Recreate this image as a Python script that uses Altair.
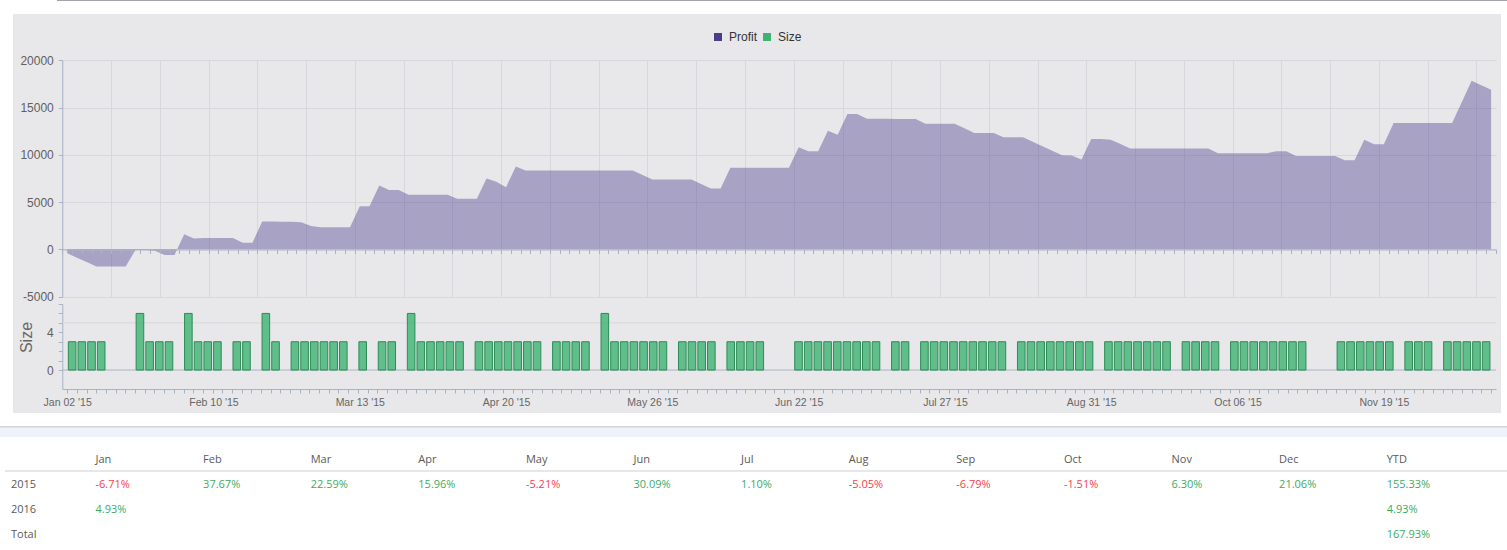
import json
import altair as alt
import pandas as pd

# ---------------- data ----------------
DATE_LABELS = ["Jan 02 '15", "Feb 10 '15", "Mar 13 '15", "Apr 20 '15", "May 26 '15",
               "Jun 22 '15", "Jul 27 '15", "Aug 31 '15", "Oct 06 '15", "Nov 19 '15"]
LABEL_EVERY = 15

SIZE = [
    3, 3, 3, 3, 0, 0, 0, 6, 3, 3,
    3, 0, 6, 3, 3, 3, 0, 3, 3, 0,
    6, 3, 0, 3, 3, 3, 3, 3, 3, 0,
    3, 0, 3, 3, 0, 6, 3, 3, 3, 3,
    3, 0, 3, 3, 3, 3, 3, 3, 3, 0,
    3, 3, 3, 3, 0, 6, 3, 3, 3, 3,
    3, 3, 0, 3, 3, 3, 3, 0, 3, 3,
    3, 3, 0, 0, 0, 3, 3, 3, 3, 3,
    3, 3, 3, 3, 0, 3, 3, 0, 3, 3,
    3, 3, 3, 3, 3, 3, 3, 0, 3, 3,
    3, 3, 3, 3, 3, 3, 0, 3, 3, 3,
    3, 3, 3, 3, 0, 3, 3, 3, 3, 0,
    3, 3, 3, 3, 3, 3, 3, 3, 0, 0,
    0, 3, 3, 3, 3, 3, 3, 0, 3, 3,
    3, 0, 3, 3, 3, 3, 3,
]

PROFIT = [
    -420, -890, -1360, -1830, -1830, -1830, -1830, -70, -80, -150,
    -600, -600, 1580, 1130, 1190, 1200, 1200, 1200, 700, 700,
    2950, 2950, 2920, 2900, 2850, 2460, 2320, 2320, 2320, 2320,
    4540, 4540, 6750, 6260, 6260, 5770, 5770, 5770, 5770, 5770,
    5350, 5350, 5350, 7490, 7140, 6570, 8760, 8330, 8330, 8330,
    8330, 8330, 8330, 8330, 8330, 8330, 8330, 8330, 8330, 7860,
    7390, 7390, 7390, 7390, 7390, 6910, 6430, 6430, 8620, 8620,
    8620, 8620, 8620, 8620, 8620, 10800, 10370, 10370, 12550, 12130,
    14310, 14310, 13820, 13820, 13820, 13800, 13800, 13800, 13290, 13290,
    13290, 13290, 12800, 12310, 12310, 12310, 11850, 11850, 11850, 11380,
    10900, 10430, 9950, 9920, 9500, 11680, 11680, 11600, 11130, 10660,
    10660, 10660, 10660, 10660, 10660, 10660, 10660, 10660, 10160, 10160,
    10160, 10160, 10160, 10160, 10370, 10370, 9880, 9880, 9880, 9880,
    9880, 9420, 9420, 11600, 11110, 11110, 13360, 13360, 13360, 13360,
    13360, 13360, 13360, 15580, 17830, 17350, 16880,
]

SERIES = ["Profit", "Size"]
SERIES_COLORS = ["#483D8B", "#3CB371"]

TABLE_COLS = ["Jan", "Feb", "Mar", "Apr", "May", "Jun", "Jul", "Aug", "Sep", "Oct", "Nov", "Dec", "YTD"]
TABLE_ROWS = ["2015", "2016", "Total"]
RET_2015 = [-6.71, 37.67, 22.59, 15.96, -5.21, 30.09, 1.10, -5.05, -6.79, -1.51, 6.30, 21.06, 155.33]
RET_2016 = [4.93, None, None, None, None, None, None, None, None, None, None, None, 4.93]
RET_TOTAL = [None, None, None, None, None, None, None, None, None, None, None, None, 167.93]

# ---------------- layout ----------------
OX, OY = 13, 14            # panel origin on the page
W, H = 1488, 399           # panel size
X0, X1 = 62.3 - OX, 1496 - OX
P_TOP, P_BOT = 60.3 - OY, 296.5 - OY
N = len(PROFIT)

FONT = "Liberation Sans, Arial, sans-serif"
TFONT = "Open Sans"
AXIS = "#A9B3C6"
GRID = "#D8D8DC"
LABEL = "#606060"

df = pd.DataFrame({"slot": list(range(N)), "profit": PROFIT, "size": SIZE})
one = pd.DataFrame({"k": [0]})

x_scale = alt.Scale(domain=[0, N], range=[X0, X1], nice=False, zero=False)
p_scale = alt.Scale(domain=[-5000, 20000], range=[P_BOT, P_TOP], nice=False, zero=False)
# same domain, range mirrored so that bottom-axis grid lines span the profit pane
p_grid_scale = alt.Scale(domain=[-5000, 20000], range=[H - P_TOP, H - P_BOT], nice=False, zero=False)
s_scale = alt.Scale(domain=[-2, 7], range=[388.9 - OY, 304 - OY], nice=False, zero=False)
c_scale = alt.Scale(domain=SERIES, range=SERIES_COLORS)

legend = alt.Legend(orient="none", legendX=712 - OX, legendY=31 - OY, direction="horizontal",
                    title=None, symbolType="square", symbolSize=64, symbolStrokeWidth=0,
                    symbolOpacity=1, labelFont=FONT, labelFontSize=12, labelColor="#333333",
                    labelOffset=5, columnPadding=3, padding=0)

# vertical grid of the profit pane (every 5 points)
vgrid = alt.Chart(df).transform_calculate(xc="datum.slot + 0.5").mark_point(opacity=0).encode(
    x=alt.X("xc:Q", scale=x_scale,
            axis=alt.Axis(values=list(range(0, N, 5)), grid=True, gridColor=GRID, gridWidth=1,
                          ticks=False, labels=False, domain=False, title=None)),
    y=alt.Y("profit:Q", scale=p_grid_scale, axis=None),
)

# profit area with y axis
area = alt.Chart(df).transform_calculate(
    xc="datum.slot + 0.5", series="'Profit'"
).mark_area(fillOpacity=0.4, interpolate="linear").encode(
    x=alt.X("xc:Q", scale=x_scale, axis=None),
    y=alt.Y("profit:Q", scale=p_scale,
            axis=alt.Axis(orient="left", offset=-X0, values=[-5000, 0, 5000, 10000, 15000, 20000],
                          labelExpr="(datum.value < 0 ? '-' : '') + abs(datum.value)",
                          grid=True, gridColor=GRID, domainColor=AXIS, tickColor=AXIS,
                          tickSize=4, labelPadding=5, labelColor=LABEL, labelFontSize=12,
                          labelFont=FONT, title=None)),
    color=alt.Color("series:N", scale=c_scale, legend=legend),
)

# x axis of the profit pane, sitting on the zero line
top_axis = alt.Chart(df).transform_calculate(xc="datum.slot + 0.5").mark_point(opacity=0).encode(
    x=alt.X("xc:Q", scale=x_scale,
            axis=alt.Axis(orient="bottom", offset=(249.5 - OY) - H, values=list(range(0, N + 1)),
                          grid=False, labels=False, ticks=True, tickSize=4, tickColor=AXIS,
                          domain=True, domainColor=AXIS, zindex=1, title=None)),
    y=alt.Y("profit:Q", scale=p_scale, axis=None),
)

# size pane decorations
size_grid = alt.Chart(one).mark_rule(color=GRID, strokeWidth=1).encode(
    x=alt.value(X0), x2=alt.value(X1), y=alt.Y(datum=5, scale=s_scale, axis=None))
size_zero = alt.Chart(one).mark_rule(color=AXIS, strokeWidth=1).encode(
    x=alt.value(X0), x2=alt.value(X1), y=alt.Y(datum=0, scale=s_scale, axis=None))

bars = alt.Chart(df).transform_filter("datum.size > 0").transform_calculate(
    xc="datum.slot + 0.5", series="'Size'"
).mark_bar(size=7.6, fillOpacity=0.8, stroke="#2E8B57", strokeWidth=1).encode(
    x=alt.X("xc:Q", scale=x_scale,
            axis=alt.Axis(orient="bottom", offset=(389 - OY) - H, values=list(range(0, N + 1)),
                          tickSize=4, tickColor=AXIS, domainColor=AXIS, labels=False,
                          grid=False, title=None)),
    y=alt.Y("size:Q", scale=s_scale,
            axis=alt.Axis(orient="left", offset=-X0, values=list(range(0, 8)),
                          labelExpr="datum.value == 0 || datum.value == 4 ? datum.label : ''",
                          tickSize=4, tickColor=AXIS, domainColor=AXIS, labelPadding=5,
                          labelColor=LABEL, labelFontSize=12, labelFont=FONT, grid=False,
                          title="Size", titleFont=FONT, titleFontSize=16, titleFontWeight="normal",
                          titleColor="#666666", titleX=26.7 - OX - X0, titleY=337 - OY,
                          titleAngle=270, titleAlign="center", titleBaseline="middle")),
    color=alt.Color("series:N", scale=c_scale, legend=legend),
)

# date labels: centred on the slot of every 15th point
label_values = [i * LABEL_EVERY + 0.5 for i in range(len(DATE_LABELS))]
label_expr = f"{json.dumps(DATE_LABELS)}[round((datum.value - 0.5) / {LABEL_EVERY})]"
date_axis = alt.Chart(df).transform_calculate(xc="datum.slot + 0.5").mark_point(opacity=0).encode(
    x=alt.X("xc:Q", scale=x_scale,
            axis=alt.Axis(orient="bottom", offset=(389 - OY) - H, values=label_values,
                          ticks=False, domain=False, labelExpr=label_expr, labelFlush=False,
                          labelOverlap=False, labelPadding=8, labelFontSize=10.5,
                          labelColor="#666666", labelFont=FONT, grid=False, title=None)),
    y=alt.Y("size:Q", scale=s_scale, axis=None),
)

# page decorations
top_line = alt.Chart(one).mark_rule(color="#A4A4AC", strokeWidth=1).encode(
    x=alt.value(57 - OX), x2=alt.value(1507 - OX), y=alt.value(0.5 - OY))
sep_line = alt.Chart(one).mark_rule(color="#ABABB3", strokeWidth=1).encode(
    x=alt.value(-OX), x2=alt.value(1507 - OX), y=alt.value(427 - OY))
band = alt.Chart(one).mark_rect(color="#EEF2FA").encode(
    x=alt.value(-OX), x2=alt.value(1507 - OX), y=alt.value(427.5 - OY), y2=alt.value(437 - OY))
head_line = alt.Chart(one).mark_rule(color="#CFCFCF", strokeWidth=1).encode(
    x=alt.value(5 - OX), x2=alt.value(1507 - OX), y=alt.value(471 - OY))

# table
t_x = alt.Scale(type="point", domain=TABLE_COLS, range=[95.5 - OX, 1386.7 - OX], padding=0)
t_y = alt.Scale(type="point", domain=["hdr"] + TABLE_ROWS, range=[460 - OY, 535 - OY], padding=0)

hdr_df = pd.DataFrame({"col": TABLE_COLS, "row": ["hdr"] * len(TABLE_COLS)})
rows_df = pd.DataFrame({"row": TABLE_ROWS})
vals = []
for rname, arr in zip(TABLE_ROWS, [RET_2015, RET_2016, RET_TOTAL]):
    for c, v in zip(TABLE_COLS, arr):
        if v is not None:
            vals.append({"row": rname, "col": c, "v": v})
vals_df = pd.DataFrame(vals)

hdr = alt.Chart(hdr_df).mark_text(align="left", baseline="middle", font=TFONT, fontSize=11,
                                  color="#5A5A5A").encode(
    x=alt.X("col:N", scale=t_x, axis=None), y=alt.Y("row:N", scale=t_y, axis=None), text="col:N")
row_lab = alt.Chart(rows_df).mark_text(align="left", baseline="middle", font=TFONT, fontSize=11,
                                       color="#5A5A5A").encode(
    x=alt.value(11 - OX), y=alt.Y("row:N", scale=t_y, axis=None), text="row:N")
cells = alt.Chart(vals_df).transform_calculate(
    label="(datum.v < 0 ? '-' : '') + format(abs(datum.v), '.2f') + '%'"
).mark_text(align="left", baseline="middle", font=TFONT, fontSize=11).encode(
    x=alt.X("col:N", scale=t_x, axis=None), y=alt.Y("row:N", scale=t_y, axis=None),
    text="label:N",
    color=alt.condition("datum.v < 0", alt.value("#F7404F"), alt.value("#3DAA63")),
)

chart = alt.layer(
    top_line, sep_line, band, head_line,
    vgrid, area, size_grid, size_zero, bars, top_axis, date_axis,
    hdr, row_lab, cells,
).resolve_scale(
    x="independent", y="independent"
).resolve_axis(
    x="independent", y="independent"
).properties(
    width=W, height=H,
    padding={"left": OX, "top": OY, "right": 1507 - OX - W, "bottom": 550 - OY - H},
    autosize=alt.AutoSizeParams(type="none"),
    background="white",
).configure_view(fill="#E8E8EA", strokeWidth=0)

chart.save("out.html", embed_options={"renderer": "svg", "actions": False})
